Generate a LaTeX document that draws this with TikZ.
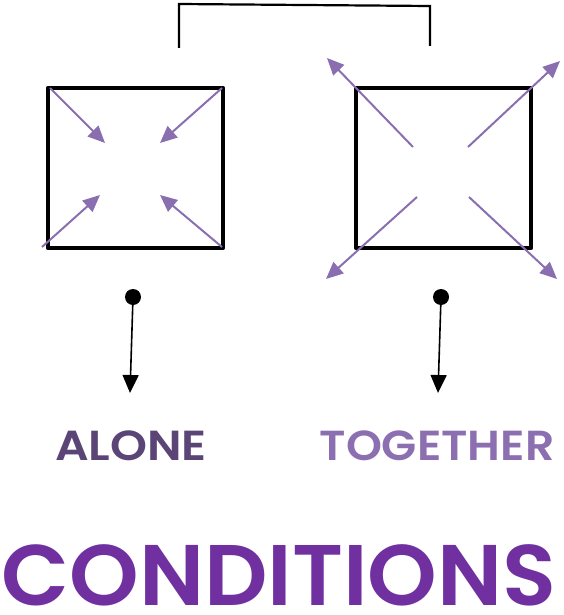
\documentclass[tikz,border=0pt]{standalone}
\usepackage{fontspec}
\setmainfont{Poppins}[BoldFont={* SemiBold}]
\usetikzlibrary{arrows.meta}
\definecolor{arr}{HTML}{8A6FB0}
\definecolor{alonec}{HTML}{5B4577}
\definecolor{togc}{HTML}{8B6FB0}
\definecolor{condc}{HTML}{7030A0}
\tikzset{
  box/.style={line width=4.6pt, line join=round},
  parr/.style={draw=arr, line width=2pt, -{Triangle[length=17pt,width=15pt]}, arr},
  karr/.style={line width=1.6pt, -{Triangle[length=18pt,width=16pt]}},
  dotc/.style={circle, fill=black, inner sep=0pt, minimum size=16pt},
  lab/.style={font=\bfseries\fontsize{42}{42}\selectfont, inner sep=0pt, anchor=base, text depth=0pt}
}
\begin{document}
\begin{tikzpicture}[x=1pt,y=-1pt]
\useasboundingbox (0,0) rectangle (563,615);
% bracket
\coordinate (b1) at (179,48);
\coordinate (b2) at (179,4);
\coordinate (b3) at (430,6);
\coordinate (b4) at (430,46);
\draw[line width=2.2pt] (b1) -- (b2) -- (b3) -- (b4);
% boxes
\draw[box] (48,88) rectangle (223,248);
\draw[box] (356,88) rectangle (531,248);
% left arrows (inward)
\coordinate (l1s) at (50,88);  \coordinate (l1e) at (105,143);
\coordinate (l2s) at (222,88); \coordinate (l2e) at (160,143);
\coordinate (l3s) at (42,247); \coordinate (l3e) at (100,195);
\coordinate (l4s) at (222,247);\coordinate (l4e) at (160,195);
\draw[parr] (l1s) -- (l1e);
\draw[parr] (l2s) -- (l2e);
\draw[parr] (l3s) -- (l3e);
\draw[parr] (l4s) -- (l4e);
% right arrows (outward)
\coordinate (r1s) at (413,147); \coordinate (r1e) at (327,58);
\coordinate (r2s) at (468,147); \coordinate (r2e) at (560,61);
\coordinate (r3s) at (417,197); \coordinate (r3e) at (326,279);
\coordinate (r4s) at (469,197); \coordinate (r4e) at (557,279);
\draw[parr] (r1s) -- (r1e);
\draw[parr] (r2s) -- (r2e);
\draw[parr] (r3s) -- (r3e);
\draw[parr] (r4s) -- (r4e);
% dots and arrows
\node[dotc] (d1) at (133,297) {};
\node[dotc] (d2) at (441,297) {};
\coordinate (t1) at (130,393);
\coordinate (t2) at (438,393);
\draw[karr] (d1.center) -- (t1);
\draw[karr] (d2.center) -- (t2);
% labels
\node[lab, text=alonec, xscale=1.12] (alone) at (131,460) {ALONE};
\node[lab, text=togc, xscale=1.09] (tog) at (437,460) {TOGETHER};
\node[lab, text=condc, xscale=1.03, font=\bfseries\fontsize{86}{86}\selectfont] (cond) at (279,605) {CONDITIONS};
\end{tikzpicture}
\end{document}
